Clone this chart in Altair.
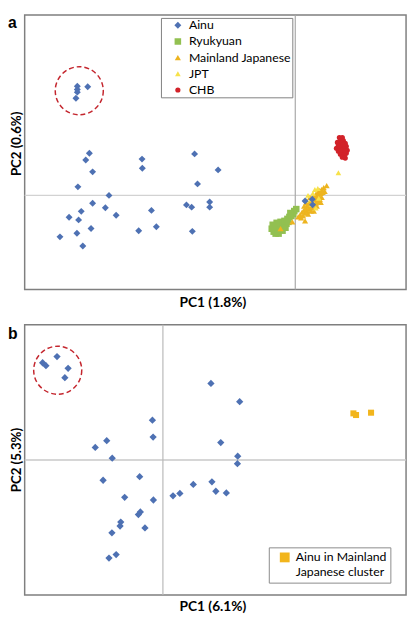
import altair as alt
import pandas as pd

# ---------------- Panel a (PC scores, arbitrary units; 0 = axis crossing) ----------------
ainu_a_pc1 = [-210, -213.7, -206.7, -221.7, -190, -206.7, -193.7, -218.3, -182.7, -230.7,
              -221, -208.3, -222.7, -240, -216.7, -156.3, -156, -146.7, -141.7, -159.7,
              -102.7, -78.7, -99.7, -111, -105.7, -87.3, -87.3, -105,
              -222.3, -222.3, -222.3, -223.7, -211.7,
              10, 17.3, 17.7]
ainu_a_pc2 = [43, 36, 24, 8.7, 0, -8, -12.7, -16.3, -20.3, -22.3,
              -25, -33.7, -38.7, -42.3, -51.7, 37, 27.7, -15.3, -32, -36,
              42.3, 26, 11.7, -9.7, -12, -6.7, -12, -36.7,
              111.3, 108, 105.3, 99, 110.7,
              -5.7, -4, -9.5]

ryu_pc1 = [-24, -22, -20, -18, -21, -17, -14, -12, -15, -11, -9, -13, -17, -19, -8,
           -6, -4, -2, -1, 1, -10, -23, -16, -7, -5]
ryu_pc2 = [-34, -37, -39, -36, -32, -31, -33, -30, -27, -26, -29, -36, -39, -28, -24,
           -22, -21, -19, -16, -14, -33, -30, -35, -27, -18]

mj_pc1 = [3, 5, 7, 6, 8, 9, 10, 11, 12, 12, 13, 14, 14, 15, 16, 16, 17, 17, 18, 19,
          19, 20, 21, 21, 22, 23, 23, 24, 25, 25, 26, 27, 27, 28, 29, 30, 15, 11, 19, 9,
          22, 26, -15, -3, 10, 32]
mj_pc2 = [-22, -20, -17, -23, -21, -15, -18, -13, -16, -11, -19, -9, -14, -6, -11, -16,
          -3, -13, -7, -1, -10, -4, 1, -8, -2, 3, -6, 0, 5, -4, 2, 6, -2, 3, 8, 4, -2,
          -8, -16, -11, -11, -7, -34, -27, -26, 10]

jpt_pc1 = [13, 18, 23, 20, 16, 24, 11, 21, 44, 17]
jpt_pc2 = [0, 2, 7, 6, -4, -3, -5, -13, 23, -9]

chb_pc1 = [45, 48, 46, 49, 43, 47, 51, 44, 48, 52, 42, 46, 50, 53, 44, 48, 52, 46, 50,
           48, 51, 45, 49, 47, 51]
chb_pc2 = [59, 59, 56, 56, 54, 53, 53, 51, 50, 50, 48, 47, 47, 46, 45, 44, 43, 42, 41,
           39, 38, 50, 52, 46, 45]

circle_a_pc1 = [-220.3]
circle_a_pc2 = [106.7]

groups_a = ["Ainu", "Ryukyuan", "Mainland Japanese", "JPT", "CHB"]
colors_a = ["#4E71B3", "#92C051", "#EDB41F", "#F7E24A", "#D22229"]
shapes_a = ["diamond", "square", "triangle-up", "triangle-up", "circle"]
sizes_a = [50, 28, 26, 48, 26]

# ---------------- Panel b ----------------
ainu_b_pc1 = [-122.7, -119.3, -108, -96.7, -100,
              49, 78.3, -10.7, -10, -57.3, -69, -51.7, 59, 76.3, 76, -61, -23.7, 31, 50,
              17.3, 10.3, 54, 64.7, -39, -9.7, -23, -25, -43, -43.7, -18.3, -52, -47.7, -55]
ainu_b_pc2 = [100, 97, 106.3, 94.3, 84.7,
              78.7, 60, 41, 23.7, 20, 13, 2, 18, 4, -3.7, -20.7, -17, -25, -22.3,
              -34.3, -36.7, -32, -33.7, -38.3, -41, -53.3, -56, -63.7, -67.7, -69.7, -74.7, -97, -100.7]

amj_pc1 = [194.3, 197, 212.3]
amj_pc2 = [48, 46.3, 48.7]
amj_label = "Ainu in Mainland\nJapanese cluster"

circle_b_pc1 = [-107.3]
circle_b_pc2 = [92.3]

# plotted extent of each panel (PC units)
xa_dom = [-276, 113]
ya_dom = [-96, 184]
xb_dom = [-141, 248]
yb_dom = [-138.7, 139]

# ---------------- layout (pixels inside the chart) ----------------
XA_RNG, YA_RNG = [17, 406], [280, 0]
XB_RNG, YB_RNG = [17, 406], [591.7, 316]

# ---------------- tables ----------------
rows = []
for g, xs, ys in [("Ryukyuan", ryu_pc1, ryu_pc2), ("Mainland Japanese", mj_pc1, mj_pc2),
                  ("JPT", jpt_pc1, jpt_pc2), ("CHB", chb_pc1, chb_pc2),
                  ("Ainu", ainu_a_pc1, ainu_a_pc2)]:
    for x, y in zip(xs, ys):
        rows.append({"pc1": x, "pc2": y, "group": g})
df_a = pd.DataFrame(rows)
df_a["order"] = range(len(df_a))
df_ca = pd.DataFrame({"pc1": circle_a_pc1, "pc2": circle_a_pc2})
df_b = pd.DataFrame({"pc1": ainu_b_pc1, "pc2": ainu_b_pc2})
df_amj = pd.DataFrame({"pc1": amj_pc1, "pc2": amj_pc2, "group": [amj_label] * len(amj_pc1)})
df_cb = pd.DataFrame({"pc1": circle_b_pc1, "pc2": circle_b_pc2})

TITLE_FONT = "Lato"
LABEL_FONT = "Lato"
BLUE = "#4E71B3"
RED = "#C4262E"


def build_panel(xdom, ydom, xrng, yrng, vcol, hcol):
    xs = alt.Scale(domain=xdom, range=xrng, nice=False, zero=False)
    ys = alt.Scale(domain=ydom, range=yrng, nice=False, zero=False)

    def X(f):
        return alt.X(f, scale=xs, axis=None)

    def Y(f):
        return alt.Y(f, scale=ys, axis=None)

    frame_df = pd.DataFrame({"x0": [xdom[0]], "x1": [xdom[1]], "y0": [ydom[0]], "y1": [ydom[1]]})
    frame = alt.Chart(frame_df).mark_rect(fillOpacity=0, stroke="#7f7f7f", strokeWidth=1.5).encode(
        x=X("x0:Q"), x2="x1:Q", y=Y("y0:Q"), y2="y1:Q")
    vdf = pd.DataFrame({"x": [0], "y0": [ydom[0]], "y1": [ydom[1]]})
    vline = alt.Chart(vdf).mark_rule(color=vcol, strokeWidth=1.2).encode(
        x=X("x:Q"), y=Y("y0:Q"), y2="y1:Q")
    hdf = pd.DataFrame({"y": [0], "x0": [xdom[0]], "x1": [xdom[1]]})
    hline = alt.Chart(hdf).mark_rule(color=hcol, strokeWidth=1.5).encode(
        y=Y("y:Q"), x=X("x0:Q"), x2="x1:Q")
    return X, Y, frame, vline, hline


# ---- panel a ----
Xa, Ya, frame_a, vline_a, hline_a = build_panel(xa_dom, ya_dom, XA_RNG, YA_RNG, "#a8a8a8", "#d2d2d2")
circ_a = alt.Chart(df_ca).mark_point(shape="circle", size=2401, filled=False, color=RED,
                                      strokeWidth=1.5, strokeDash=[5, 3], opacity=1).encode(
    x=Xa("pc1:Q"), y=Ya("pc2:Q"))
leg_a = alt.Legend(title=None, orient="none", legendX=156, legendY=3, fillColor="white",
                   strokeColor="#7f7f7f", padding=1, symbolOffset=10, labelOffset=5,
                   labelFont=LABEL_FONT, labelFontSize=12.5, labelColor="#000000",
                   rowPadding=3.5, clipHeight=13)
pts_a = alt.Chart(df_a).mark_point(filled=True, opacity=1, strokeWidth=0).encode(
    x=Xa("pc1:Q"), y=Ya("pc2:Q"),
    color=alt.Color("group:N", scale=alt.Scale(domain=groups_a, range=colors_a), legend=leg_a),
    shape=alt.Shape("group:N", scale=alt.Scale(domain=groups_a, range=shapes_a), legend=leg_a),
    size=alt.Size("group:N", scale=alt.Scale(domain=groups_a, range=sizes_a), legend=leg_a),
    order="order:Q",
)
panel_a = alt.layer(frame_a, hline_a, vline_a, circ_a, pts_a)

# ---- panel b ----
Xb, Yb, frame_b, vline_b, hline_b = build_panel(xb_dom, yb_dom, XB_RNG, YB_RNG, "#b8b8b8", "#c8c8c8")
circ_b = alt.Chart(df_cb).mark_point(shape="circle", size=2401, filled=False, color=RED,
                                      strokeWidth=1.5, strokeDash=[5, 3], opacity=1).encode(
    x=Xb("pc1:Q"), y=Yb("pc2:Q"))
pts_b = alt.Chart(df_b).mark_point(shape="diamond", filled=True, opacity=1, strokeWidth=0,
                                   size=55, color=BLUE).encode(x=Xb("pc1:Q"), y=Yb("pc2:Q"))
leg_b = alt.Legend(title=None, orient="none", legendX=266, legendY=543, fillColor="white",
                   strokeColor="#8a8a8a", padding=4, symbolOffset=6, labelOffset=5,
                   labelFont=LABEL_FONT, labelFontSize=12.5, labelColor="#000000",
                   symbolType="square", labelExpr="split(datum.label, '\\n')")
sq_b = alt.Chart(df_amj).mark_point(shape="square", filled=True, opacity=1, strokeWidth=0,
                                    size=38).encode(
    x=Xb("pc1:Q"), y=Yb("pc2:Q"),
    color=alt.Color("group:N", scale=alt.Scale(domain=[amj_label], range=["#F2B51C"]), legend=leg_b))
panel_b = alt.layer(frame_b, hline_b, vline_b, circ_b, pts_b, sq_b)

# ---- texts: panel letters and axis titles ----
one = pd.DataFrame({"k": [0]})


def label(text, x, y, size=14, weight="bold", font=TITLE_FONT, angle=0, align="center",
          baseline="alphabetic"):
    return alt.Chart(one).mark_text(text=text, font=font, fontSize=size, fontWeight=weight,
                                    color="#000000", angle=angle, align=align,
                                    baseline=baseline).encode(x=alt.value(x), y=alt.value(y))


texts = [
    label("a", 0, 0, size=16, font="Liberation Sans", align="left", baseline="top"),
    label("b", 0, 317, size=16, font="Liberation Sans", align="left", baseline="top"),
    label("PC1 (1.8%)", 209, 298),
    label("PC1 (6.1%)", 209, 608),
    label("PC2 (0.6%)", 9.5, 131.5, size=13.5, angle=270, baseline="middle"),
    label("PC2 (5.3%)", 9.5, 454, size=13.5, angle=270, baseline="middle"),
]

chart = alt.layer(panel_a, panel_b, *texts).resolve_scale(
    x="independent", y="independent", color="independent", shape="independent", size="independent"
).properties(width=409, height=612, padding=0, background="white").configure_view(stroke=None)

chart.save("out.html", embed_options={"renderer": "svg", "actions": False})
